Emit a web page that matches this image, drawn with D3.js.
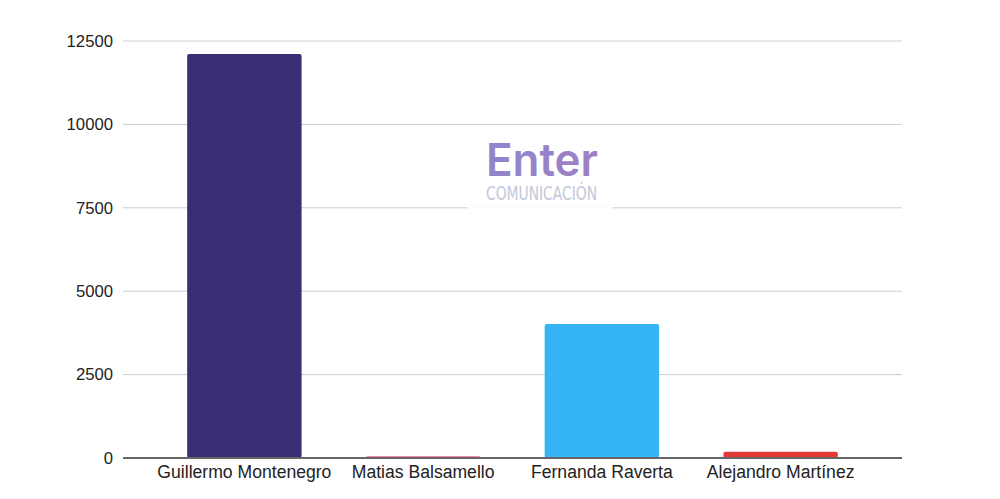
<!DOCTYPE html>
<html><head><meta charset="utf-8">
<script src="https://cdn.jsdelivr.net/npm/d3@7"></script>
<style>body{margin:0;background:#fff}svg{display:block;font-family:"Liberation Sans",Arial,sans-serif}</style>
</head><body>
<svg id="c" width="1000" height="499"></svg>
<script>
const categories = ["Guillermo Montenegro","Matias Balsamello","Fernanda Raverta","Alejandro Martínez"];
const votes = [12110, 55, 4020, 185];
const colors = ["#3a2d74","#f06292","#35b4f6","#e53935"];
const yTicks = [0,2500,5000,7500,10000,12500];

const svg = d3.select("#c");
const x0 = 123, x1 = 902, yTop = 41, yBot = 458;
const x = d3.scaleBand().domain(categories).range([155, 870]).paddingInner(0.36).paddingOuter(0.18);
const y = d3.scaleLinear().domain([0,12500]).range([yBot, yTop]);

// grid
svg.append("g").selectAll("line").data(yTicks.slice(1)).join("line")
  .attr("x1", x0).attr("x2", x1).attr("y1", d=>y(d)).attr("y2", d=>y(d))
  .attr("stroke","#cccccc").attr("stroke-width",1);

// y tick labels
svg.append("g").selectAll("text").data(yTicks).join("text")
  .attr("x", 113).attr("y", d=>y(d)).attr("dy","0.35em")
  .attr("text-anchor","end").attr("font-size",16.7).attr("fill","#222")
  .text(d=>d);

// watermark
const wm = svg.append("g");
wm.append("rect").attr("x",467).attr("y",135).attr("width",146).attr("height",78).attr("fill","#fff").attr("opacity",0.85);
const grad = svg.append("defs").append("linearGradient").attr("id","g1").attr("x1","0").attr("x2","1");
grad.append("stop").attr("offset","0").attr("stop-color","#8f86cc");
grad.append("stop").attr("offset","1").attr("stop-color","#a07fc4");
wm.append("text").attr("x",486).attr("y",176).attr("font-size",45).attr("font-weight",600)
  .attr("font-family","Inter, Roboto, 'Liberation Sans', sans-serif")
  .attr("textLength",112).attr("lengthAdjust","spacingAndGlyphs")
  .attr("fill","url(#g1)").text("Enter");
wm.append("text").attr("x",486).attr("y",200).attr("font-size",19.5)
  .attr("font-family","'Liberation Sans Narrow','DejaVu Sans Condensed',sans-serif")
  .attr("textLength",111).attr("lengthAdjust","spacingAndGlyphs")
  .attr("fill","#c2c7da").text("COMUNICACIÓN");

// bars
svg.append("g").selectAll("rect").data(categories).join("rect")
  .attr("x", d=>x(d)).attr("width", x.bandwidth())
  .attr("y", (d,i)=>y(votes[i])).attr("height", (d,i)=>yBot - y(votes[i]))
  .attr("rx",2).attr("fill", (d,i)=>colors[i]);

// x axis
svg.append("line").attr("x1",x0).attr("x2",x1).attr("y1",yBot).attr("y2",yBot)
  .attr("stroke","#666").attr("stroke-width",2);
const xa = svg.append("g").attr("transform",`translate(0,${yBot})`)
  .call(d3.axisBottom(x).tickSize(0).tickPadding(8));
xa.select(".domain").remove();
xa.selectAll("text").attr("font-size",17.6).attr("fill","#222").attr("font-family","'Liberation Sans',Arial,sans-serif");
</script>
</body></html>
